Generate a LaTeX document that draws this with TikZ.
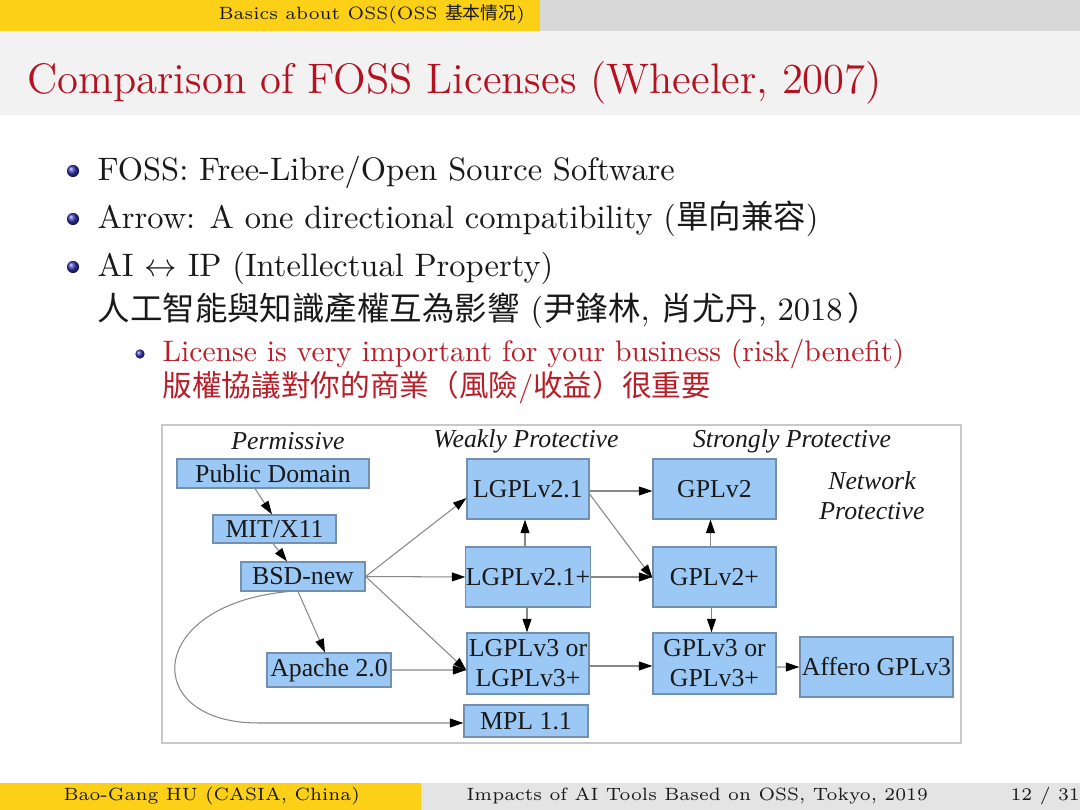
\documentclass[tikz,border=0pt]{standalone}
\usepackage{fontspec}
\newfontfamily\cjk{Noto Sans CJK TC}
\newfontfamily\cjksc{Noto Sans CJK SC}
\newfontfamily\tms{Liberation Serif}
\usetikzlibrary{arrows.meta,calc}
\definecolor{hdryellow}{RGB}{252,208,22}
\definecolor{hdrgray}{RGB}{216,216,216}
\definecolor{titlebg}{RGB}{242,242,242}
\definecolor{ftrgray}{RGB}{228,228,228}
\definecolor{titlered}{RGB}{180,18,32}
\definecolor{subred}{RGB}{185,30,40}
\definecolor{bulletblue}{RGB}{51,51,178}
\definecolor{licfill}{RGB}{155,200,245}
\definecolor{licborder}{RGB}{115,145,175}
\definecolor{edgegray}{RGB}{135,135,135}
\definecolor{framegray}{RGB}{200,200,200}
\definecolor{darktext}{RGB}{25,25,25}
\def\u{0.118519mm}
\begin{document}
\begin{tikzpicture}[x=0.118519mm,y=-0.118519mm,
  txt/.style={inner sep=0pt, anchor=base west, text=darktext},
  hdrtxt/.style={txt, font=\fontsize{6}{7}\selectfont},
  titletxt/.style={txt, text=titlered, font=\fontsize{14.4}{17}\selectfont},
  bodytxt/.style={txt, font=\fontsize{10.95}{13}\selectfont},
  subtxt/.style={txt, text=subred, font=\fontsize{10}{12}\selectfont},
  lbl/.style={inner sep=0pt, text=darktext, font=\tms\itshape\fontsize{8.7}{10.1}\selectfont, align=center},
  lic/.style={draw=licborder, line width=0.4pt, fill=licfill, inner sep=0pt, text=darktext,
              font=\tms\fontsize{8.7}{10.1}\selectfont, align=center},
  sz/.style 2 args={minimum width=#1*\u, minimum height=#2*\u},
  arr/.style={draw=edgegray, line width=0.35pt, -{Triangle[length=1.6mm,width=1.05mm,color=black]}},
  ball/.style={ball color=bulletblue}
]
\useasboundingbox (0,0) rectangle (1080,810);
% backgrounds
\fill[white] (0,0) rectangle (1080,810);
\fill[hdryellow] (0,0) rectangle (540,31);
\fill[hdrgray] (540,0) rectangle (1080,31);
\fill[titlebg] (0,31) rectangle (1080,115);
\fill[hdryellow] (0,783) rectangle (421,810);
\fill[ftrgray] (421,783) rectangle (1080,810);

% header / title / footer
\node[hdrtxt] (hdr) at (218,20) {Basics about OSS(OSS {\cjksc 基本情况})};
\node[titletxt] (title) at (27,94) {Comparison of FOSS Licenses (Wheeler, 2007)};
\node[hdrtxt] (fauthor) at (63,801) {Bao-Gang HU (CASIA, China)};
\node[hdrtxt] (ftitle) at (466,801) {Impacts of AI Tools Based on OSS, Tokyo, 2019};
\node[hdrtxt] (fpage) at (1010,801) {12 / 31};

% bullets
\shade[ball] (73,171) circle[radius=0.72mm];
\shade[ball] (73,219) circle[radius=0.72mm];
\shade[ball] (73,267) circle[radius=0.72mm];
\shade[ball] (140,354) circle[radius=0.55mm];
\node[bodytxt] (b1) at (97,181) {FOSS: Free-Libre/Open Source Software};
\node[bodytxt] (b2) at (97,229) {Arrow: A one directional compatibility ({\cjk 單向兼容})};
\node[bodytxt] (b3) at (97,277) {AI $\leftrightarrow$ IP (Intellectual Property)};
\node[bodytxt] (b3b) at (97,321) {{\cjk 人工智能與知識產權互為影響} ({\cjk 尹鋒林}, {\cjk 肖尤丹}, 2018\hspace{0.15em}{\cjk ）}};
\node[subtxt] (s1) at (162,362) {License is very important for your business (risk/benefit)};
\node[subtxt] (s1b) at (162,397) {{\cjk 版權協議對你的商業（風險}/{\cjk 收益）很重要}};

% diagram frame
\draw[framegray, line width=0.5pt, fill=white] (162,425) rectangle (961,743);

% column labels
\node[lbl] (lperm) at (288,441) {Permissive};
\node[lbl] (lweak) at (526,441) {Weakly Protective};
\node[lbl] (lstrong) at (792,441) {Strongly Protective};
\node[lbl] (lnet) at (872,495.5) {Network\\Protective};

% license boxes
\node[lic, sz={192}{29}] (pd) at (273,473.5) {Public Domain};
\node[lic, sz={123}{28}] (mit) at (274.5,529) {MIT/X11};
\node[lic, sz={124}{29}] (bsd) at (303,576.5) {BSD-new};
\node[lic, sz={124}{34}] (apache) at (329,670) {Apache 2.0};
\node[lic, sz={122}{60}] (lg21) at (528,489) {LGPLv2.1};
\node[lic, sz={122}{60}] (lg21p) at (528,577) {LGPLv2.1+};
\node[lic, sz={122}{61}] (lg3) at (528,663.5) {LGPLv3 or\\LGPLv3+};
\node[lic, sz={124}{32}] (mpl) at (526,721) {MPL 1.1};
\node[lic, sz={123}{60}] (gpl2) at (714.5,489) {GPLv2};
\node[lic, sz={123}{60}] (gpl2p) at (714.5,577) {GPLv2+};
\node[lic, sz={123}{61}] (gpl3) at (714.5,663.5) {GPLv3 or\\GPLv3+};
\node[lic, sz={153}{60}] (affero) at (876.5,667) {Affero GPLv3};

% connectors
\draw[arr] ($(pd.south)+(-18,0)$) -- ($(mit.north)+(-2.5,0)$);
\draw[arr] ($(mit.south)+(-1.5,0)$) -- ($(bsd.north)+(-16,0)$);
\draw[arr] (bsd.east) -- ($(lg21.west)+(0,9)$);
\draw[arr] (bsd.east) -- (lg21p.west);
\draw[arr] (bsd.east) -- ($(lg3.west)+(0,7)$);
\draw[arr] ($(bsd.south)+(-5,0)$) -- ($(apache.north)+(-4,0)$);
\draw[arr] ($(bsd.south)+(-15,0)$) .. controls (145,605) and (140,723) .. ($(mpl.west)+(-205,2)$) -- ($(mpl.west)+(0,2)$);
\draw[arr] (apache.east) -- ($(lg3.west)+(0,6.5)$);
\draw[arr] ($(lg21p.north)+(-3,0)$) -- ($(lg21.south)+(-3,0)$);
\draw[arr] ($(lg21p.south)+(-1,0)$) -- ($(lg3.north)+(-1,0)$);
\draw[arr] ($(lg21.east)+(0,2)$) -- ($(gpl2.west)+(0,2)$);
\draw[arr] ($(lg21.east)+(0,5)$) -- ($(gpl2p.west)+(0,1)$);
\draw[arr] (lg21p.east) -- (gpl2p.west);
\draw[arr] ($(gpl2p.north)+(-4,0)$) -- ($(gpl2.south)+(-4,0)$);
\draw[arr] ($(gpl2p.south)+(-3,0)$) -- ($(gpl3.north)+(-3,0)$);
\draw[arr] ($(lg3.east)+(0,2.5)$) -- ($(gpl3.west)+(0,2.5)$);
\draw[arr] ($(gpl3.east)+(0,3.5)$) -- (affero.west);
\end{tikzpicture}
\end{document}
